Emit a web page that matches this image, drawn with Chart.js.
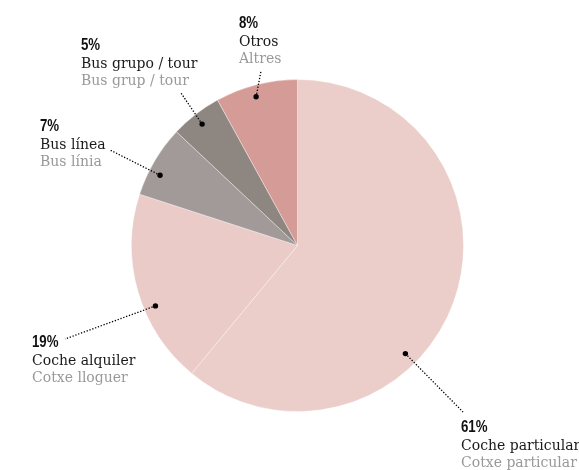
<!DOCTYPE html>
<html>
<head>
<meta charset="utf-8">
<script src="https://cdn.jsdelivr.net/npm/chart.js@4.4.0/dist/chart.umd.min.js"></script>
<style>
  html, body { margin: 0; padding: 0; background: #fff; }
  #wrap { width: 579px; height: 470px; position: relative; }
</style>
</head>
<body>
<div id="wrap"><canvas id="modeChart"></canvas></div>
<script>
// Transport mode shares
const categories = ['Coche particular', 'Coche alquiler', 'Bus línea', 'Bus grupo / tour', 'Otros'];
const catalanNames = ['Cotxe particular', 'Cotxe lloguer', 'Bus línia', 'Bus grup / tour', 'Altres'];
const shares = [61, 19, 7, 5, 8];
const pctLabels = ['61%', '19%', '7%', '5%', '8%'];

const sliceColors = ['#ebcdc9', '#eacbc7', '#a19a98', '#8e8681', '#d59c97'];

// label placement: where the dot sits inside the slice (t along the arc, r of radius),
// where the text block starts and where the dotted leader ends
const labelLayout = [
    { t: 0.615, r: 0.92, x: 461, y: 432, lx: 463, ly: 412 },
    { t: 0.40,  r: 0.93, x: 32,  y: 347, lx: 65,  ly: 339 },
    { t: 0.36,  r: 0.93, x: 40,  y: 131, lx: 110, ly: 150 },
    { t: 0.48,  r: 0.93, x: 81,  y: 50,  lx: 181, ly: 93 },
    { t: 0.46,  r: 0.93, x: 239, y: 28,  lx: 261, ly: 71 }
];

const calloutPlugin = {
    id: 'callouts',
    afterDraw(chart) {
        const ctx = chart.ctx;
        const arcs = chart.getDatasetMeta(0).data;
        ctx.save();
        arcs.forEach((arc, i) => {
            const lay = labelLayout[i];
            const a = arc.startAngle + lay.t * (arc.endAngle - arc.startAngle);
            const px = arc.x + Math.cos(a) * arc.outerRadius * lay.r;
            const py = arc.y + Math.sin(a) * arc.outerRadius * lay.r;

            // dotted leader
            ctx.strokeStyle = '#000';
            ctx.lineWidth = 1.3;
            ctx.setLineDash([1.3, 1.7]);
            ctx.beginPath();
            ctx.moveTo(px, py);
            ctx.lineTo(lay.lx, lay.ly);
            ctx.stroke();
            ctx.setLineDash([]);

            ctx.fillStyle = '#000';
            ctx.beginPath();
            ctx.arc(px, py, 2.7, 0, Math.PI * 2);
            ctx.fill();

            // percentage, squeezed to look condensed
            ctx.textAlign = 'left';
            ctx.textBaseline = 'alphabetic';
            ctx.save();
            ctx.translate(lay.x, lay.y);
            ctx.scale(0.78, 1);
            ctx.fillStyle = '#111';
            ctx.font = 'bold 17px "Liberation Sans", Arial, sans-serif';
            ctx.fillText(pctLabels[i], 0, 0);
            ctx.restore();

            ctx.font = '14px "DejaVu Serif", serif';
            ctx.fillStyle = '#1a1a1a';
            ctx.fillText(categories[i], lay.x, lay.y + 18);
            ctx.fillStyle = '#999';
            ctx.fillText(catalanNames[i], lay.x, lay.y + 35);
        });
        ctx.restore();
    }
};

new Chart(document.getElementById('modeChart'), {
    type: 'pie',
    data: {
        labels: categories,
        datasets: [{
            data: shares,
            backgroundColor: sliceColors,
            borderColor: 'rgba(255,255,255,0.35)',
            borderWidth: 1
        }]
    },
    options: {
        responsive: true,
        maintainAspectRatio: false,
        animation: false,
        layout: {
            padding: { left: 131, right: 115, top: 79, bottom: 58 }
        },
        plugins: {
            legend: { display: false },
            tooltip: { enabled: false }
        }
    },
    plugins: [calloutPlugin]
});
</script>
</body>
</html>
